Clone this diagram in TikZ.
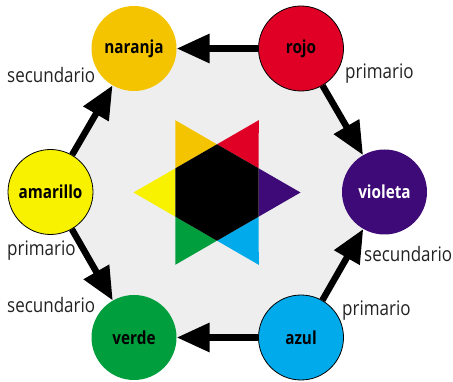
\documentclass[tikz,border=0pt]{standalone}
\usepackage{fontspec}
\setmainfont[FakeStretch=0.85]{Open Sans}
\usetikzlibrary{arrows.meta}
\definecolor{cbg}{HTML}{EEEEEE}
\definecolor{corange}{HTML}{F5C400}
\definecolor{cred}{HTML}{E10025}
\definecolor{cviolet}{HTML}{3D0A77}
\definecolor{cblue}{HTML}{00AAEB}
\definecolor{cgreen}{HTML}{009E3D}
\definecolor{cyellow}{HTML}{F8F200}
\definecolor{ctext}{HTML}{222222}
\pgfdeclarelayer{bg}
\pgfdeclarelayer{mid}
\pgfsetlayers{bg,mid,main}
\tikzset{
  colnode/.style={circle, minimum size=85pt, inner sep=0pt, font=\fontsize{18}{20}\selectfont\bfseries},
  prim/.style={colnode, draw=black, line width=0.8pt},
  sec/.style={colnode},
  lbl/.style={anchor=base west, inner sep=0pt, text=ctext, font=\fontsize{20}{22}\selectfont},
  bigarrow/.style={line width=6.5pt, -{Triangle[length=33pt,width=28pt]}},
}
\begin{document}
\begin{tikzpicture}[x=1pt,y=-1pt]
\useasboundingbox (0,0) rectangle (453,382);
% circles
\node[sec, fill=corange] (N) at (134,48.5) {naranja};
\node[prim, fill=cred] (R) at (301,48.5) {rojo};
\node[prim, fill=cyellow] (A) at (50.5,192) {amarillo};
\node[sec, fill=cviolet, text=white] (V) at (384.5,192) {violeta};
\node[sec, fill=cgreen] (G) at (134,337.5) {verde};
\node[prim, fill=cblue] (B) at (301,337.5) {azul};
% background hexagon
\begin{pgfonlayer}{bg}
\fill[cbg] (A.center) -- (N.center) -- (R.center) -- (V.center) -- (B.center) -- (G.center) -- cycle;
% star
\def\cx{217}\def\cy{192.5}\def\rR{83.5}\def\rr{48.2}
\foreach \a/\c in {0/cviolet,60/cred,120/corange,180/cyellow,240/cgreen,300/cblue}{
  \fill[\c] ({\cx+\rR*cos(\a)},{\cy-\rR*sin(\a)}) -- ({\cx+\rr*cos(\a+30)},{\cy-\rr*sin(\a+30)}) -- ({\cx+\rr*cos(\a-30)},{\cy-\rr*sin(\a-30)}) -- cycle;
}
\fill[black] ({\cx+\rr*cos(30)},{\cy-\rr*sin(30)})
  \foreach \a in {90,150,210,270,330}{ -- ({\cx+\rr*cos(\a)},{\cy-\rr*sin(\a)}) } -- cycle;
\end{pgfonlayer}
% arrows
\begin{pgfonlayer}{mid}
\draw[bigarrow] (R) -- (N);
\draw[bigarrow] (R) -- (V);
\draw[bigarrow] (A) -- (N);
\draw[bigarrow] (A) -- (G);
\draw[bigarrow] (B) -- (G);
\draw[bigarrow] (B) -- (V);
\end{pgfonlayer}
% labels
\node[lbl] (l1) at (7,83) {secundario};
\node[lbl] (l2) at (345,79) {primario};
\node[lbl] (l3) at (7,256) {primario};
\node[lbl] (l4) at (7,313) {secundario};
\node[lbl] (l5) at (364,262) {secundario};
\node[lbl] (l6) at (342,316) {primario};
\end{tikzpicture}
\end{document}
